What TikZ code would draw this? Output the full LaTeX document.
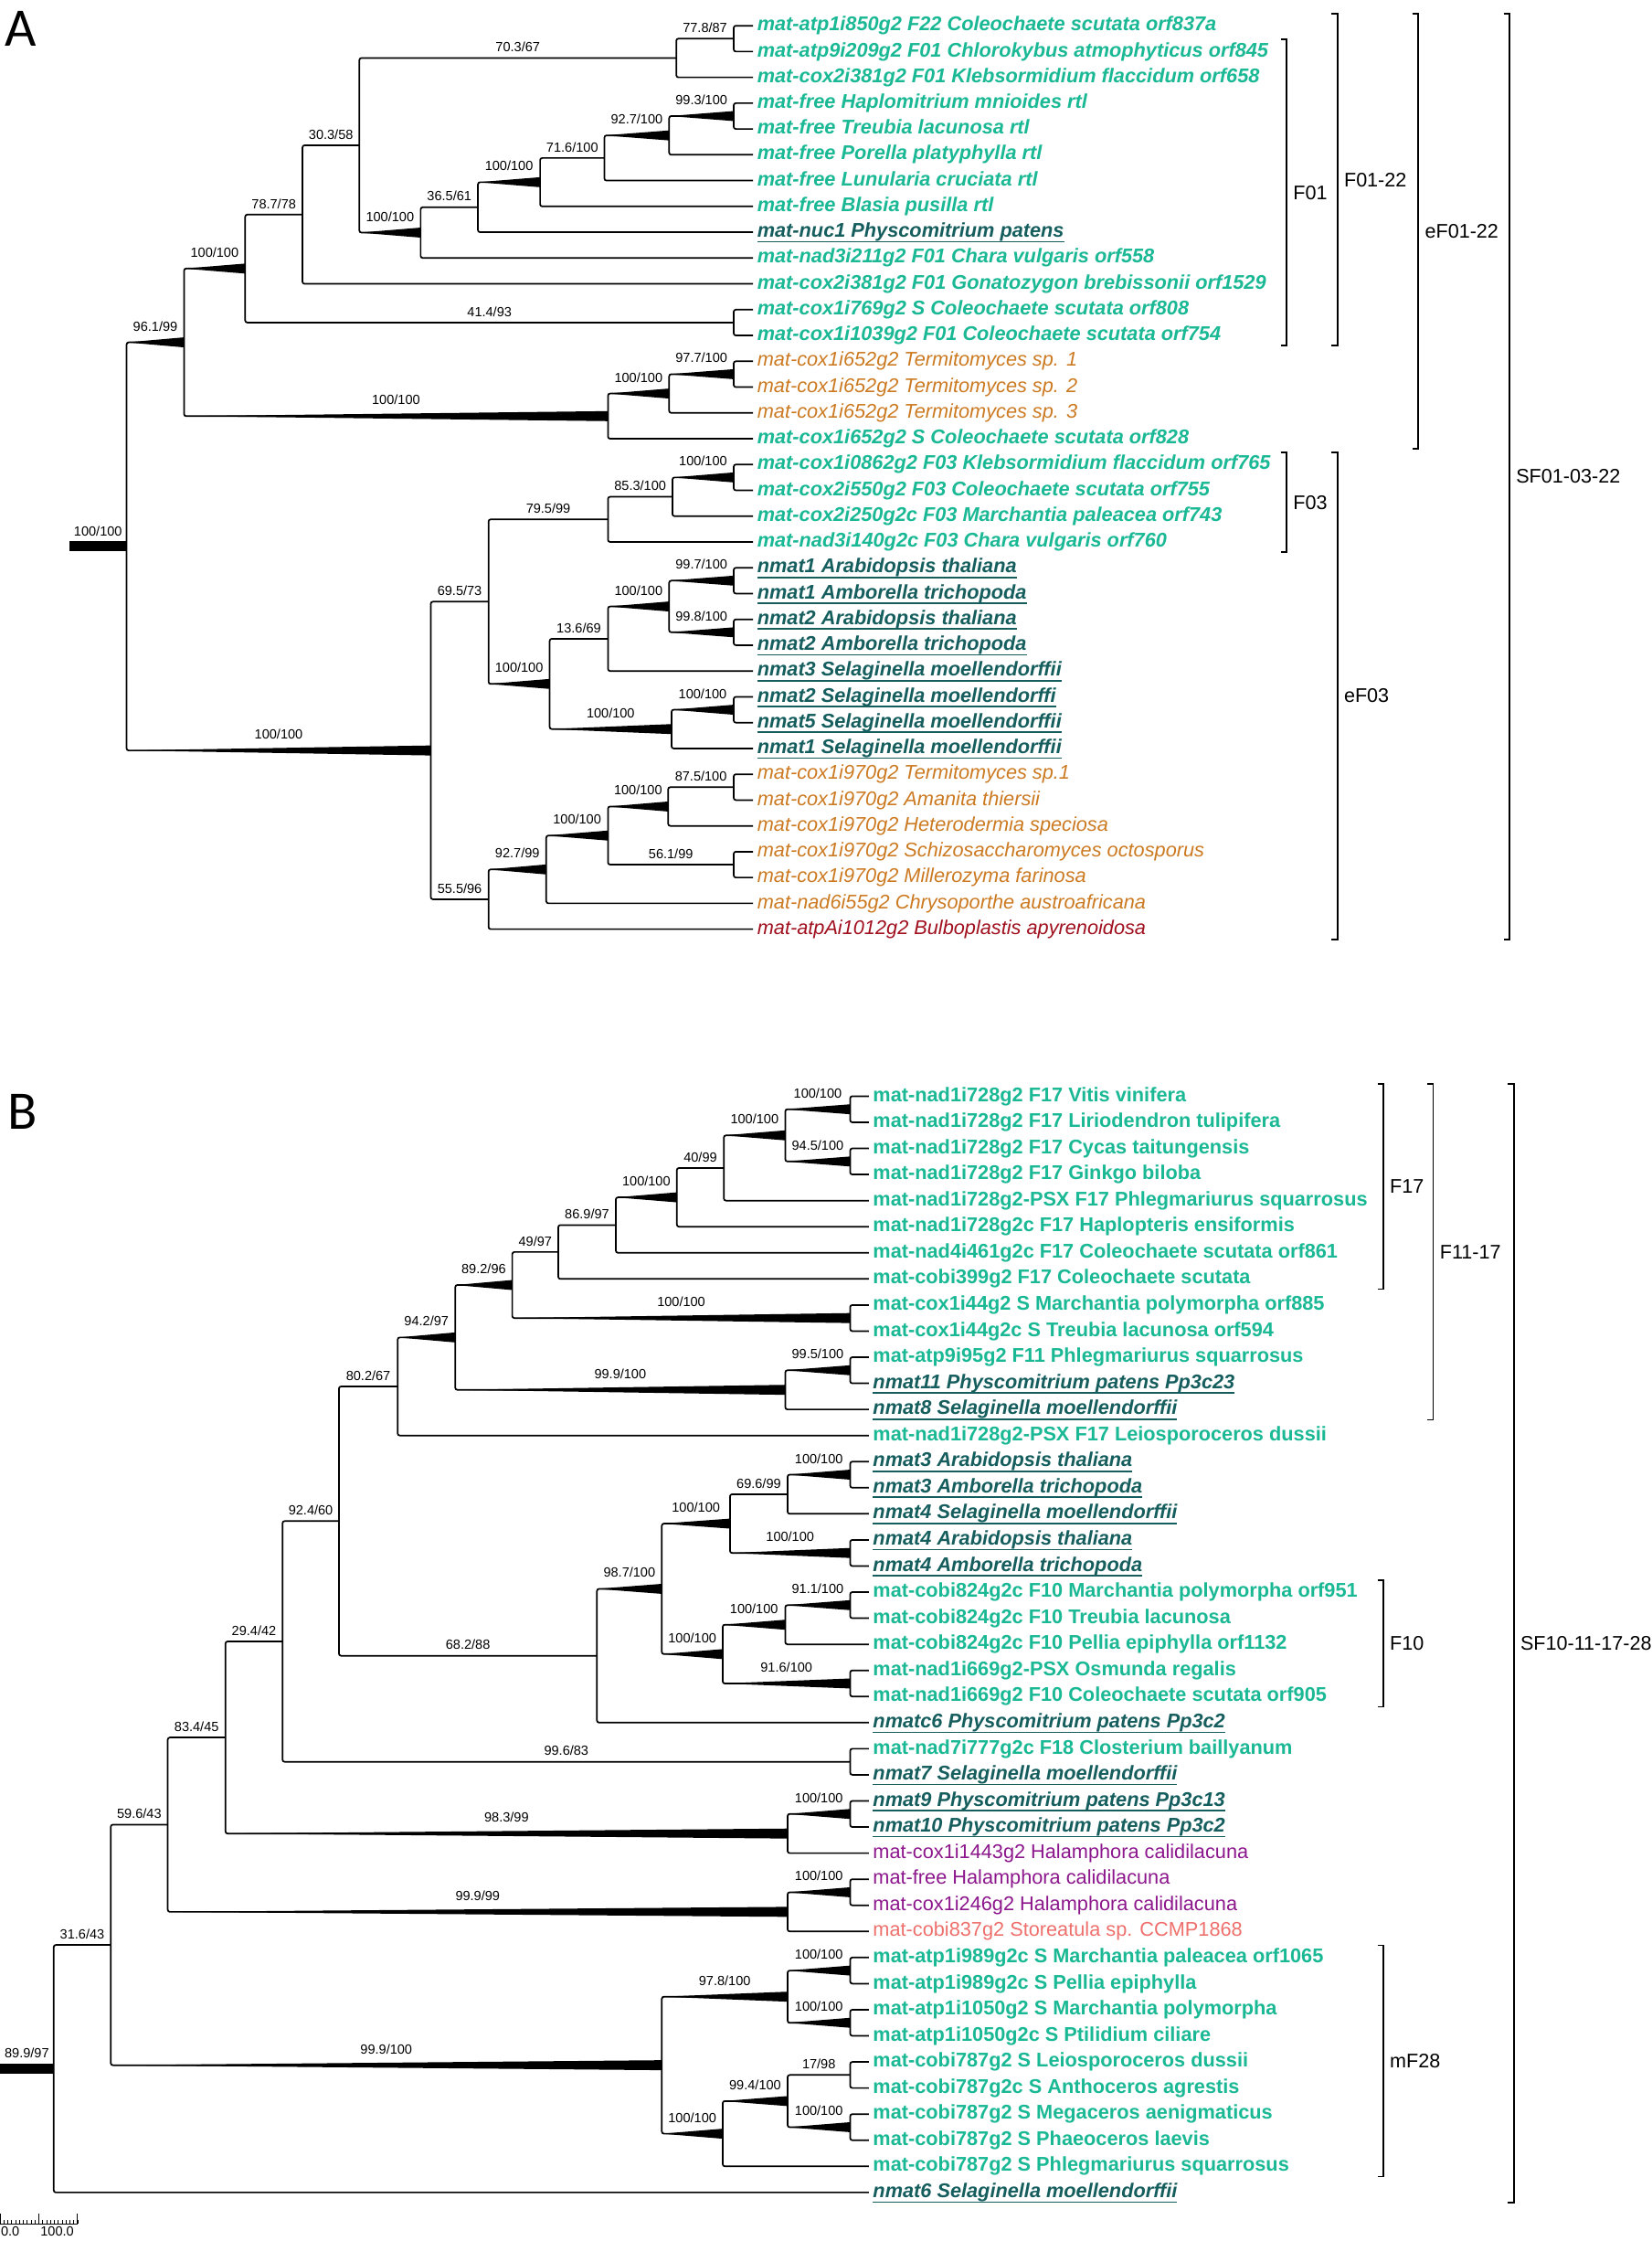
\documentclass[tikz,border=0pt]{standalone}
\usepackage{fontspec}
\setmainfont{Liberation Sans}
\newfontfamily\letterfont{Carlito}
\usetikzlibrary{calc}

\definecolor{grn}{RGB}{26,184,148}
\definecolor{dkteal}{RGB}{22,94,94}
\definecolor{ora}{RGB}{204,122,34}
\definecolor{drd}{RGB}{160,16,30}
\definecolor{pur}{RGB}{140,22,140}
\definecolor{pnk}{RGB}{238,112,108}

\newsavebox\ulbox
\newcommand\uln[1]{\sbox\ulbox{#1}\rlap{\rule[-3.7pt]{\wd\ulbox}{1.1pt}}\usebox\ulbox}
\newcommand\lfs{\fontsize{13.9}{16}\selectfont}
\newcommand\lfA[3]{\node[lf,#2] (a#1) at (527,{18+(#1-1)*18.06}) {#3};}
\newcommand\lfB[3]{\node[lf,#2] (b#1) at (608,{767+(#1-1)*18.262}) {#3};}
\newcommand\clade[4]{%
 \coordinate (m#1) at ($(#3.west)!0.5!(#4.west)$);
 \node[nd] (#1) at (#2,0 |- m#1) {};
 \draw[br] (#3.west) -- (#3.west -| #1) -- (#4.west -| #1) -- (#4.west);}
\newcommand\bs[3]{\node[sup,yshift=4.3pt] (s#2) at ($(#2.west -| #1)!0.5!(#2.west)$) {#3};}
\newcommand\ws[3]{%
 \fill (#2.west -| #1) -- ([yshift=3.5pt]#2.west) -- ([yshift=-3.5pt]#2.west) -- cycle;
 \node[sup,yshift=8pt] (s#2) at ($(#2.west -| #1)!0.5!(#2.west)$) {#3};}
\newcommand\bkt[5]{%
 \coordinate (#1a) at ($(#3.west -| #2,0)+(0,-8.5)$);
 \coordinate (#1b) at ($(#4.west -| #2,0)+(0,7.2)$);
 \draw[brk] ($(#1a)+(-4,0)$) -- (#1a) -- (#1b) -- ($(#1b)+(-4,0)$);
 \node[brl] (#1l) at ($(#1a)!0.5!(#1b)+(4.5,0)$) {#5};}

\begin{document}
\begin{tikzpicture}[
 x=1pt,y=-1pt,
 lf/.style={anchor=west,inner xsep=3pt,inner ysep=0pt,outer sep=0pt,
   text height=10.6pt,text depth=3.4pt,font=\lfs},
 gi/.style={text=grn,font=\lfs\bfseries\itshape},
 gb/.style={text=grn,font=\lfs\bfseries},
 nm/.style={text=dkteal,font=\lfs\bfseries\itshape},
 fo/.style={text=ora,font=\lfs\itshape},
 rd/.style={text=drd,font=\lfs\itshape},
 pu/.style={text=pur},
 pk/.style={text=pnk},
 nd/.style={inner sep=0pt,outer sep=0pt,minimum size=0pt},
 br/.style={line width=1.1pt,rounded corners=1.5pt},
 sup/.style={anchor=base,inner sep=0pt,font=\fontsize{9.3}{11}\selectfont},
 brk/.style={line width=1.1pt},
 brl/.style={anchor=west,inner sep=0pt,font=\fontsize{13.8}{16}\selectfont},
 panel/.style={anchor=base west,inner sep=0pt,font=\letterfont\fontsize{38}{40}\selectfont}
]
\useasboundingbox (0,0) rectangle (1156,1568);

\node[panel] (pA) at (3,32) {A};
\node[panel] (pB) at (5,790) {B};

% tree A
\lfA{1}{gi}{mat-atp1i850g2 F22 Coleochaete scutata orf837a}
\lfA{2}{gi}{mat-atp9i209g2 F01 Chlorokybus atmophyticus orf845}
\lfA{3}{gi}{mat-cox2i381g2 F01 Klebsormidium flaccidum orf658}
\lfA{4}{gi}{mat-free Haplomitrium mnioides rtl}
\lfA{5}{gi}{mat-free Treubia lacunosa rtl}
\lfA{6}{gi}{mat-free Porella platyphylla rtl}
\lfA{7}{gi}{mat-free Lunularia cruciata rtl}
\lfA{8}{gi}{mat-free Blasia pusilla rtl}
\lfA{9}{nm}{\uln{mat-nuc1 Physcomitrium patens}}
\lfA{10}{gi}{mat-nad3i211g2 F01 Chara vulgaris orf558}
\lfA{11}{gi}{mat-cox2i381g2 F01 Gonatozygon brebissonii orf1529}
\lfA{12}{gi}{mat-cox1i769g2 S Coleochaete scutata orf808}
\lfA{13}{gi}{mat-cox1i1039g2 F01 Coleochaete scutata orf754}
\lfA{14}{fo}{mat-cox1i652g2 Termitomyces sp. 1}
\lfA{15}{fo}{mat-cox1i652g2 Termitomyces sp. 2}
\lfA{16}{fo}{mat-cox1i652g2 Termitomyces sp. 3}
\lfA{17}{gi}{mat-cox1i652g2 S Coleochaete scutata orf828}
\lfA{18}{gi}{mat-cox1i0862g2 F03 Klebsormidium flaccidum orf765}
\lfA{19}{gi}{mat-cox2i550g2 F03 Coleochaete scutata orf755}
\lfA{20}{gi}{mat-cox2i250g2c F03 Marchantia paleacea orf743}
\lfA{21}{gi}{mat-nad3i140g2c F03 Chara vulgaris orf760}
\lfA{22}{nm}{\uln{nmat1 Arabidopsis thaliana}}
\lfA{23}{nm}{\uln{nmat1 Amborella trichopoda}}
\lfA{24}{nm}{\uln{nmat2 Arabidopsis thaliana}}
\lfA{25}{nm}{\uln{nmat2 Amborella trichopoda}}
\lfA{26}{nm}{\uln{nmat3 Selaginella moellendorffii}}
\lfA{27}{nm}{\uln{nmat2 Selaginella moellendorffi}}
\lfA{28}{nm}{\uln{nmat5 Selaginella moellendorffii}}
\lfA{29}{nm}{\uln{nmat1 Selaginella moellendorffii}}
\lfA{30}{fo}{mat-cox1i970g2 Termitomyces sp.1}
\lfA{31}{fo}{mat-cox1i970g2 Amanita thiersii}
\lfA{32}{fo}{mat-cox1i970g2 Heterodermia speciosa}
\lfA{33}{fo}{mat-cox1i970g2 Schizosaccharomyces octosporus}
\lfA{34}{fo}{mat-cox1i970g2 Millerozyma farinosa}
\lfA{35}{fo}{mat-nad6i55g2 Chrysoporthe austroafricana}
\lfA{36}{rd}{mat-atpAi1012g2 Bulboplastis apyrenoidosa}

\clade{a1to2}{513.5}{a1}{a2}
\clade{a1to3}{473.3}{a1to2}{a3}
\clade{a4to5}{513.5}{a4}{a5}
\clade{a4to6}{468.3}{a4to5}{a6}
\clade{a4to7}{423}{a4to6}{a7}
\clade{a4to8}{378}{a4to7}{a8}
\clade{a4to9}{334.5}{a4to8}{a9}
\clade{a4to10}{294.4}{a4to9}{a10}
\clade{a1to10}{251.5}{a1to3}{a4to10}
\clade{a1to11}{211.7}{a1to10}{a11}
\clade{a12to13}{513.5}{a12}{a13}
\clade{a1to13}{171.6}{a1to11}{a12to13}
\clade{a14to15}{513.5}{a14}{a15}
\clade{a14to16}{468.3}{a14to15}{a16}
\clade{a14to17}{425.5}{a14to16}{a17}
\clade{a1to17}{128.8}{a1to13}{a14to17}
\clade{a18to19}{513.5}{a18}{a19}
\clade{a18to20}{470.6}{a18to19}{a20}
\clade{a18to21}{425.5}{a18to20}{a21}
\clade{a22to23}{513.5}{a22}{a23}
\clade{a24to25}{513.5}{a24}{a25}
\clade{a22to25}{468.3}{a22to23}{a24to25}
\clade{a22to26}{425.5}{a22to25}{a26}
\clade{a27to28}{513.5}{a27}{a28}
\clade{a27to29}{470}{a27to28}{a29}
\clade{a22to29}{384.7}{a22to26}{a27to29}
\clade{a18to29}{341.9}{a18to21}{a22to29}
\clade{a30to31}{513.5}{a30}{a31}
\clade{a30to32}{467.6}{a30to31}{a32}
\clade{a33to34}{513.5}{a33}{a34}
\clade{a30to34}{425.5}{a30to32}{a33to34}
\clade{a30to35}{382.3}{a30to34}{a35}
\clade{a30to36}{341.9}{a30to35}{a36}
\clade{a18to36}{301.5}{a18to29}{a30to36}
\clade{aR}{88.6}{a1to17}{a18to36}

\bs{a1to3}{a1to2}{77.8/87}
\bs{a1to10}{a1to3}{70.3/67}
\ws{a4to6}{a4to5}{99.3/100}
\ws{a4to7}{a4to6}{92.7/100}
\bs{a4to8}{a4to7}{71.6/100}
\ws{a4to9}{a4to8}{100/100}
\bs{a4to10}{a4to9}{36.5/61}
\ws{a1to10}{a4to10}{100/100}
\bs{a1to11}{a1to10}{30.3/58}
\bs{a1to13}{a1to11}{78.7/78}
\bs{a1to13}{a12to13}{41.4/93}
\ws{a1to17}{a1to13}{100/100}
\ws{a14to16}{a14to15}{97.7/100}
\ws{a14to17}{a14to16}{100/100}
\ws{a1to17}{a14to17}{100/100}
\ws{aR}{a1to17}{96.1/99}
\ws{a18to20}{a18to19}{100/100}
\bs{a18to21}{a18to20}{85.3/100}
\bs{a18to29}{a18to21}{79.5/99}
\ws{a22to25}{a22to23}{99.7/100}
\ws{a22to25}{a24to25}{99.8/100}
\ws{a22to26}{a22to25}{100/100}
\bs{a22to29}{a22to26}{13.6/69}
\ws{a27to29}{a27to28}{100/100}
\ws{a22to29}{a27to29}{100/100}
\ws{a18to29}{a22to29}{100/100}
\bs{a18to36}{a18to29}{69.5/73}
\bs{a30to32}{a30to31}{87.5/100}
\ws{a30to34}{a30to32}{100/100}
\bs{a30to34}{a33to34}{56.1/99}
\ws{a30to35}{a30to34}{100/100}
\ws{a30to36}{a30to35}{92.7/99}
\bs{a18to36}{a30to36}{55.5/96}
\ws{aR}{a18to36}{100/100}
\fill ([yshift=3.5pt]aR.west) rectangle ([xshift=-40.1pt,yshift=-3.5pt]aR.west);
\node[sup,yshift=7.5pt] (saR) at ([xshift=-20pt]aR.west) {100/100};

\bkt{kF01}{900.4}{a2}{a13}{F01}
\bkt{kF0122}{936}{a1}{a13}{F01-22}
\bkt{keF0122}{992.6}{a1}{a17}{eF01-22}
\bkt{kSFA}{1056.4}{a1}{a36}{SF01-03-22}
\bkt{kF03}{900.4}{a18}{a21}{F03}
\bkt{keF03}{936}{a18}{a36}{eF03}

% tree B
\lfB{1}{gb}{mat-nad1i728g2 F17 Vitis vinifera}
\lfB{2}{gb}{mat-nad1i728g2 F17 Liriodendron tulipifera}
\lfB{3}{gb}{mat-nad1i728g2 F17 Cycas taitungensis}
\lfB{4}{gb}{mat-nad1i728g2 F17 Ginkgo biloba}
\lfB{5}{gb}{mat-nad1i728g2-PSX F17 Phlegmariurus squarrosus}
\lfB{6}{gb}{mat-nad1i728g2c F17 Haplopteris ensiformis}
\lfB{7}{gb}{mat-nad4i461g2c F17 Coleochaete scutata orf861}
\lfB{8}{gb}{mat-cobi399g2 F17 Coleochaete scutata}
\lfB{9}{gb}{mat-cox1i44g2 S Marchantia polymorpha orf885}
\lfB{10}{gb}{mat-cox1i44g2c S Treubia lacunosa orf594}
\lfB{11}{gb}{mat-atp9i95g2 F11 Phlegmariurus squarrosus}
\lfB{12}{nm}{\uln{nmat11 Physcomitrium patens Pp3c23}}
\lfB{13}{nm}{\uln{nmat8 Selaginella moellendorffii}}
\lfB{14}{gb}{mat-nad1i728g2-PSX F17 Leiosporoceros dussii}
\lfB{15}{nm}{\uln{nmat3 Arabidopsis thaliana}}
\lfB{16}{nm}{\uln{nmat3 Amborella trichopoda}}
\lfB{17}{nm}{\uln{nmat4 Selaginella moellendorffii}}
\lfB{18}{nm}{\uln{nmat4 Arabidopsis thaliana}}
\lfB{19}{nm}{\uln{nmat4 Amborella trichopoda}}
\lfB{20}{gb}{mat-cobi824g2c F10 Marchantia polymorpha orf951}
\lfB{21}{gb}{mat-cobi824g2c F10 Treubia lacunosa}
\lfB{22}{gb}{mat-cobi824g2c F10 Pellia epiphylla orf1132}
\lfB{23}{gb}{mat-nad1i669g2-PSX Osmunda regalis}
\lfB{24}{gb}{mat-nad1i669g2 F10 Coleochaete scutata orf905}
\lfB{25}{nm}{\uln{nmatc6 Physcomitrium patens Pp3c2}}
\lfB{26}{gb}{mat-nad7i777g2c F18 Closterium baillyanum}
\lfB{27}{nm}{\uln{nmat7 Selaginella moellendorffii}}
\lfB{28}{nm}{\uln{nmat9 Physcomitrium patens Pp3c13}}
\lfB{29}{nm}{\uln{nmat10 Physcomitrium patens Pp3c2}}
\lfB{30}{pu}{mat-cox1i1443g2 Halamphora calidilacuna}
\lfB{31}{pu}{mat-free Halamphora calidilacuna}
\lfB{32}{pu}{mat-cox1i246g2 Halamphora calidilacuna}
\lfB{33}{pk}{mat-cobi837g2 Storeatula sp. CCMP1868}
\lfB{34}{gb}{mat-atp1i989g2c S Marchantia paleacea orf1065}
\lfB{35}{gb}{mat-atp1i989g2c S Pellia epiphylla}
\lfB{36}{gb}{mat-atp1i1050g2 S Marchantia polymorpha}
\lfB{37}{gb}{mat-atp1i1050g2c S Ptilidium ciliare}
\lfB{38}{gb}{mat-cobi787g2 S Leiosporoceros dussii}
\lfB{39}{gb}{mat-cobi787g2c S Anthoceros agrestis}
\lfB{40}{gb}{mat-cobi787g2 S Megaceros aenigmaticus}
\lfB{41}{gb}{mat-cobi787g2 S Phaeoceros laevis}
\lfB{42}{gb}{mat-cobi787g2 S Phlegmariurus squarrosus}
\lfB{43}{nm}{\uln{nmat6 Selaginella moellendorffii}}

\clade{b1to2}{595}{b1}{b2}
\clade{b3to4}{595}{b3}{b4}
\clade{b1to4}{549.6}{b1to2}{b3to4}
\clade{b1to5}{506.6}{b1to4}{b5}
\clade{b1to6}{473.7}{b1to5}{b6}
\clade{b1to7}{431}{b1to6}{b7}
\clade{b1to8}{390.7}{b1to7}{b8}
\clade{b9to10}{595}{b9}{b10}
\clade{b1to10}{358.5}{b1to8}{b9to10}
\clade{b11to12}{595}{b11}{b12}
\clade{b11to13}{549.6}{b11to12}{b13}
\clade{b1to13}{318.6}{b1to10}{b11to13}
\clade{b1to14}{278.3}{b1to13}{b14}
\clade{b15to16}{595}{b15}{b16}
\clade{b15to17}{551.2}{b15to16}{b17}
\clade{b18to19}{595}{b18}{b19}
\clade{b15to19}{510.9}{b15to17}{b18to19}
\clade{b20to21}{595}{b20}{b21}
\clade{b20to22}{549.6}{b20to21}{b22}
\clade{b23to24}{595}{b23}{b24}
\clade{b20to24}{505.8}{b20to22}{b23to24}
\clade{b15to24}{463.2}{b15to19}{b20to24}
\clade{b15to25}{417.8}{b15to24}{b25}
\clade{b1to25}{237.2}{b1to14}{b15to25}
\clade{b26to27}{595}{b26}{b27}
\clade{b1to27}{197.7}{b1to25}{b26to27}
\clade{b28to29}{595}{b28}{b29}
\clade{b28to30}{551.2}{b28to29}{b30}
\clade{b1to30}{157.8}{b1to27}{b28to30}
\clade{b31to32}{595}{b31}{b32}
\clade{b31to33}{551.2}{b31to32}{b33}
\clade{b1to33}{117.4}{b1to30}{b31to33}
\clade{b34to35}{595}{b34}{b35}
\clade{b36to37}{595}{b36}{b37}
\clade{b34to37}{551.2}{b34to35}{b36to37}
\clade{b38to39}{595}{b38}{b39}
\clade{b40to41}{595}{b40}{b41}
\clade{b38to41}{551.2}{b38to39}{b40to41}
\clade{b38to42}{505.8}{b38to41}{b42}
\clade{b34to42}{463.2}{b34to37}{b38to42}
\clade{b1to42}{77.5}{b1to33}{b34to42}
\clade{bR}{37.6}{b1to42}{b43}

\ws{b1to4}{b1to2}{100/100}
\ws{b1to4}{b3to4}{94.5/100}
\ws{b1to5}{b1to4}{100/100}
\bs{b1to6}{b1to5}{40/99}
\ws{b1to7}{b1to6}{100/100}
\bs{b1to8}{b1to7}{86.9/97}
\bs{b1to10}{b1to8}{49/97}
\ws{b1to10}{b9to10}{100/100}
\ws{b1to13}{b1to10}{89.2/96}
\ws{b11to13}{b11to12}{99.5/100}
\ws{b1to13}{b11to13}{99.9/100}
\ws{b1to14}{b1to13}{94.2/97}
\bs{b1to25}{b1to14}{80.2/67}
\ws{b15to17}{b15to16}{100/100}
\bs{b15to19}{b15to17}{69.6/99}
\ws{b15to19}{b18to19}{100/100}
\ws{b15to24}{b15to19}{100/100}
\ws{b20to22}{b20to21}{91.1/100}
\ws{b20to24}{b20to22}{100/100}
\ws{b20to24}{b23to24}{91.6/100}
\ws{b15to24}{b20to24}{100/100}
\ws{b15to25}{b15to24}{98.7/100}
\bs{b1to25}{b15to25}{68.2/88}
\bs{b1to27}{b1to25}{92.4/60}
\bs{b1to27}{b26to27}{99.6/83}
\bs{b1to30}{b1to27}{29.4/42}
\ws{b28to30}{b28to29}{100/100}
\ws{b1to30}{b28to30}{98.3/99}
\bs{b1to33}{b1to30}{83.4/45}
\ws{b31to33}{b31to32}{100/100}
\ws{b1to33}{b31to33}{99.9/99}
\bs{b1to42}{b1to33}{59.6/43}
\ws{b34to37}{b34to35}{100/100}
\ws{b34to37}{b36to37}{100/100}
\ws{b34to42}{b34to37}{97.8/100}
\bs{b38to41}{b38to39}{17/98}
\ws{b38to41}{b40to41}{100/100}
\ws{b38to42}{b38to41}{99.4/100}
\ws{b34to42}{b38to42}{100/100}
\ws{b1to42}{b34to42}{99.9/100}
\bs{bR}{b1to42}{31.6/43}
\fill ([yshift=3.5pt]bR.west) rectangle ([xshift=-37.6pt,yshift=-3.5pt]bR.west);
\node[sup,yshift=7.5pt] (sbR) at ([xshift=-18.8pt]bR.west) {89.9/97};

\bkt{kF17}{968}{b1}{b8}{F17}
\bkt{kF1117}{1003}{b1}{b13}{F11-17}
\bkt{kSFB}{1059.4}{b1}{b43}{SF10-11-17-28}
\bkt{kF10}{968}{b20}{b24}{F10}
\bkt{kmF28}{968}{b34}{b42}{mF28}

% scale bar
\draw[line width=0.6pt] (0,1556) -- (54.3,1556);
\foreach \k in {0,...,20} \draw[line width=0.5pt] ({\k*2.715},1556) -- ({\k*2.715},1553);
\foreach \k in {0,10,20} \draw[line width=0.6pt] ({\k*2.715},1556) -- ({\k*2.715},1548.5);
\node[sup,anchor=north west] (sc0) at (0.5,1558) {0.0};
\node[sup,anchor=north] (sc1) at (40,1558) {100.0};
\end{tikzpicture}
\end{document}
